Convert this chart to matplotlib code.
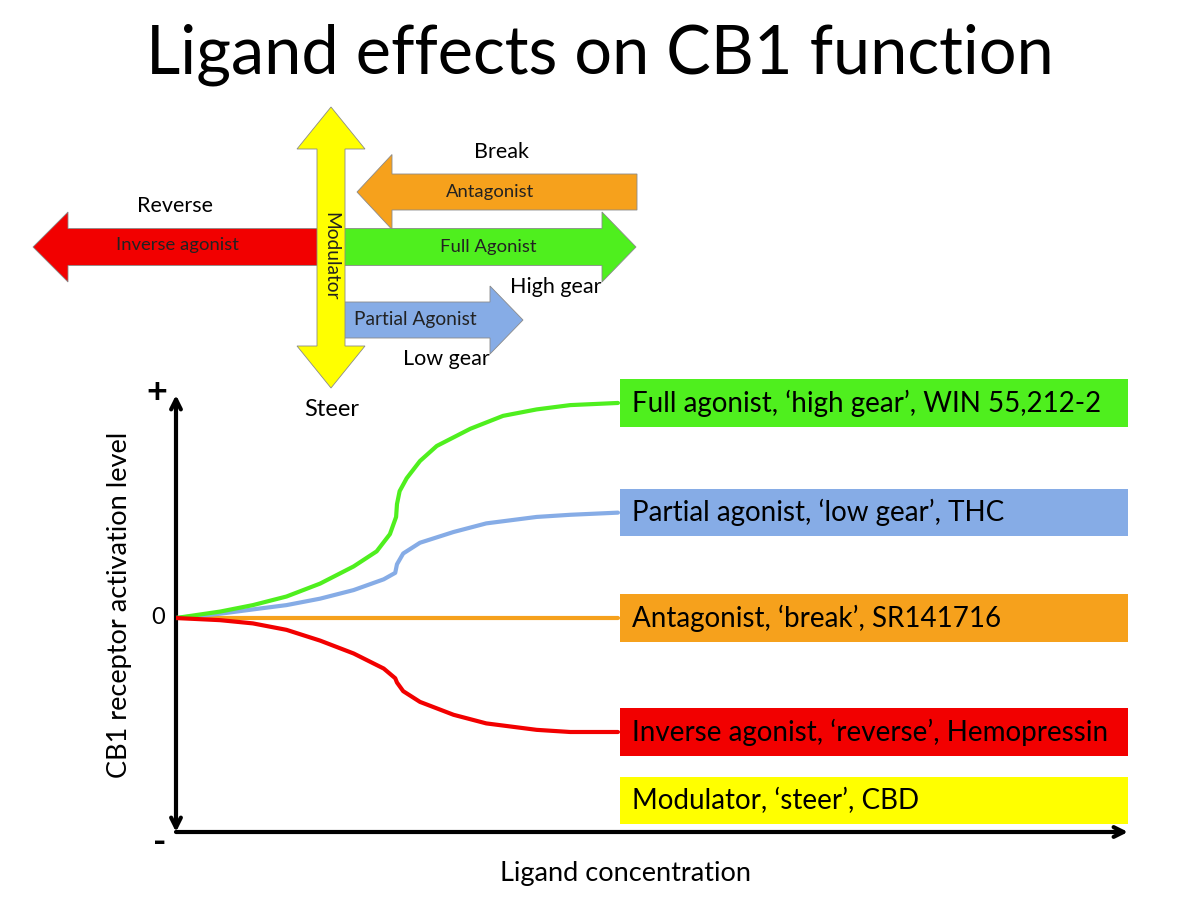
import matplotlib.pyplot as plt
from matplotlib.patches import Rectangle, Polygon

plt.rcParams['font.family'] = ['Lato', 'DejaVu Sans']

# ligand concentration (arbitrary units) and CB1 activation
conc_full = [0.0, 0.50, 0.87, 1.25, 1.63, 2.01, 2.27, 2.42, 2.49, 2.50, 2.53, 2.61,
             2.76, 2.95, 3.33, 3.70, 4.08, 4.46, 5.0]
full_agonist = [0.0, 0.03, 0.06, 0.10, 0.16, 0.24, 0.31, 0.39, 0.47, 0.53, 0.59, 0.65,
                0.73, 0.80, 0.88, 0.94, 0.97, 0.99, 1.0]

conc = [0.0, 0.50, 0.87, 1.25, 1.63, 2.01, 2.35, 2.48, 2.50, 2.57, 2.76, 3.14,
        3.51, 4.08, 4.46, 5.0]
partial_agonist = [0.0, 0.02, 0.04, 0.06, 0.09, 0.13, 0.18, 0.21, 0.25, 0.30, 0.35, 0.40,
                   0.44, 0.47, 0.48, 0.49]
antagonist = [0.0] * 16
inverse_agonist = [0.0, -0.01, -0.025, -0.055, -0.105, -0.165, -0.235, -0.28, -0.30, -0.34, -0.39, -0.45,
                   -0.49, -0.52, -0.53, -0.53]

box_labels = ["Full agonist, \u2018high gear\u2019, WIN 55,212-2",
              "Partial agonist, \u2018low gear\u2019, THC",
              "Antagonist, \u2018break\u2019, SR141716",
              "Inverse agonist, \u2018reverse\u2019, Hemopressin",
              "Modulator, \u2018steer\u2019, CBD"]
box_levels = [1.0, 0.49, 0.0, -0.53, -0.85]

GREEN = '#4FEF1E'
BLUE = '#86ACE6'
ORANGE = '#F6A11C'
RED = '#F20000'
YELLOW = '#FFFF00'
box_colors = [GREEN, BLUE, ORANGE, RED, YELLOW]

fig = plt.figure(figsize=(12, 9), dpi=100)

# overlay in pixel units for the schematic arrows
ax = fig.add_axes([0, 0, 1, 1])
ax.set_xlim(0, 1200)
ax.set_ylim(900, 0)
ax.axis('off')

ax.text(600, 55, "Ligand effects on CB1 function", ha='center', va='center', fontsize=48)


def harrow(x0, x1, yc, shaft, head_w, head_l, color, z=2):
    s = 1 if x1 > x0 else -1
    hb = x1 - s * head_l
    pts = [(x0, yc - shaft / 2), (hb, yc - shaft / 2), (hb, yc - head_w / 2), (x1, yc),
           (hb, yc + head_w / 2), (hb, yc + shaft / 2), (x0, yc + shaft / 2)]
    ax.add_patch(Polygon(pts, closed=True, facecolor=color, edgecolor='#8a8a8a', lw=0.6, zorder=z))


def varrow2(xc, y0, y1, shaft, head_w, head_l, color, z=3):
    pts = [(xc, y0), (xc + head_w / 2, y0 + head_l), (xc + shaft / 2, y0 + head_l),
           (xc + shaft / 2, y1 - head_l), (xc + head_w / 2, y1 - head_l), (xc, y1),
           (xc - head_w / 2, y1 - head_l), (xc - shaft / 2, y1 - head_l),
           (xc - shaft / 2, y0 + head_l), (xc - head_w / 2, y0 + head_l)]
    ax.add_patch(Polygon(pts, closed=True, facecolor=color, edgecolor='#8a8a8a', lw=0.6, zorder=z))


harrow(637, 357, 192, 36, 75, 35, ORANGE)
harrow(331, 33, 247, 37, 70, 35, RED)
harrow(340, 636, 247, 37, 70, 34, GREEN)
harrow(340, 523, 320, 36, 68, 33, BLUE)
varrow2(331, 107, 388, 28, 68, 42, YELLOW)

small = 13.3
ax.text(490, 192, "Antagonist", ha='center', va='center', fontsize=small, color='#222222', zorder=5)
ax.text(177, 245, "Inverse agonist", ha='center', va='center', fontsize=small, color='#222222', zorder=5)
ax.text(488, 247, "Full Agonist", ha='center', va='center', fontsize=small, color='#222222', zorder=5)
ax.text(415, 319, "Partial Agonist", ha='center', va='center', fontsize=13.8, color='#222222', zorder=5)
ax.text(331, 256, "Modulator", ha='center', va='center', fontsize=13.8, rotation=-90,
        color='#222222', zorder=5)

mid = 15.5
ax.text(501, 152, "Break", ha='center', va='center', fontsize=mid)
ax.text(175, 206, "Reverse", ha='center', va='center', fontsize=mid)
ax.text(556, 287, "High gear", ha='center', va='center', fontsize=mid)
ax.text(446, 359, "Low gear", ha='center', va='center', fontsize=mid)
ax.text(332, 409, "Steer", ha='center', va='center', fontsize=17)

ax.text(157, 393, "+", ha='center', va='center', fontsize=26, fontweight='bold')
ax.text(160, 843, "-", ha='center', va='center', fontsize=26, fontweight='bold')
ax.text(158, 618, "0", ha='center', va='center', fontsize=17)
ax.text(120, 605, "CB1 receptor activation level", ha='center', va='center', fontsize=19.5, rotation=90)
ax.text(625, 874, "Ligand concentration", ha='center', va='center', fontsize=19.5)

# activation curves
ax2 = fig.add_axes([176 / 1200, 1 - 832 / 900, 952 / 1200, 437 / 900])
ax2.set_xlim(0, 10.77)
ax2.set_ylim(-0.995, 1.037)
ax2.patch.set_alpha(0)
for sp in ax2.spines.values():
    sp.set_visible(False)
ax2.set_xticks([])
ax2.set_yticks([])

style = dict(lw=3, solid_capstyle='round', solid_joinstyle='round')
ax2.plot(conc, antagonist, color=ORANGE, zorder=3, **style)
ax2.plot(conc, partial_agonist, color=BLUE, zorder=4, **style)
ax2.plot(conc_full, full_agonist, color=GREEN, zorder=5, **style)
ax2.plot(conc, inverse_agonist, color=RED, zorder=6, **style)

for lab, lev, col in zip(box_labels, box_levels, box_colors):
    ax2.add_patch(Rectangle((5.02, lev - 0.11), 5.75, 0.22, facecolor=col, edgecolor='none',
                            clip_on=False, zorder=7))
    ax2.text(5.155, lev, lab, ha='left', va='center', fontsize=20, zorder=8, clip_on=False)

ax2.annotate('', xy=(0, 1), xytext=(0, 0), xycoords='axes fraction',
             arrowprops=dict(arrowstyle='<->,head_length=0.7,head_width=0.35', lw=3, color='black',
                             shrinkA=0, shrinkB=0))
ax2.annotate('', xy=(1, 0), xytext=(0, 0), xycoords='axes fraction',
             arrowprops=dict(arrowstyle='->,head_length=0.7,head_width=0.35', lw=3, color='black',
                             shrinkA=0, shrinkB=0))

fig.savefig('out.png', dpi=100)
